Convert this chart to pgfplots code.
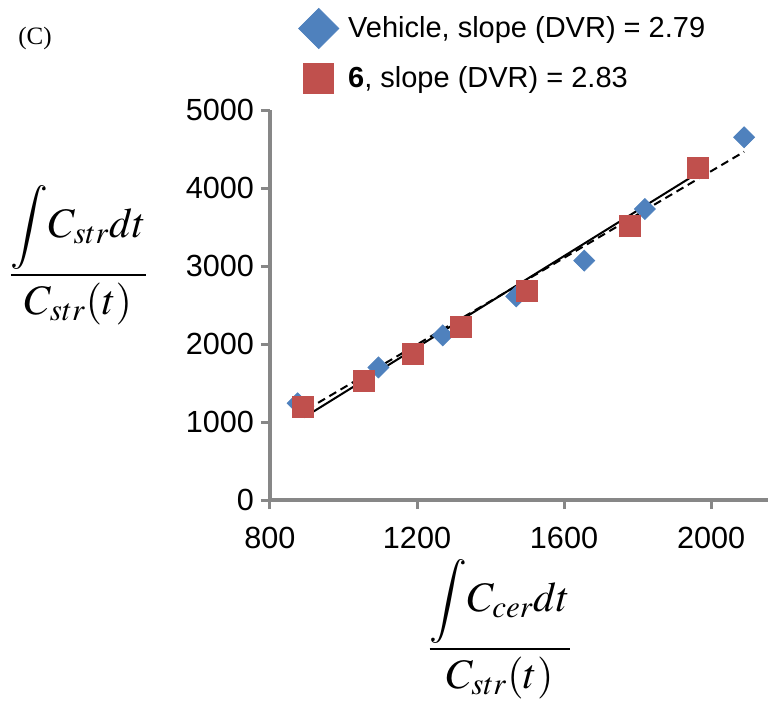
\documentclass[border=0pt]{standalone}
\usepackage{mathptmx}
\usepackage{fontspec}
\setmainfont{Liberation Sans}
\newfontfamily\seriffont{Liberation Serif}
\usepackage{pgfplots}
\pgfplotsset{compat=1.18}
\definecolor{vblue}{HTML}{4F81BD}
\definecolor{vred}{HTML}{C0504D}
\definecolor{axgray}{HTML}{878787}
\newcommand{\lowint}{\raisebox{0pt}[\dimexpr\height-6bp\relax][\depth]{$\displaystyle\int$}}

\begin{document}
\begin{tikzpicture}
\useasboundingbox (-135bp,-106bp) rectangle (250bp,250bp);
\begin{axis}[
    at={(0,0)}, anchor=south west,
    scale only axis, width=249bp, height=195bp,
    xmin=800, xmax=2155, ymin=0, ymax=5000,
    axis lines=left,
    axis line style={-, draw=axgray, line width=2bp},
    xtick={800,1200,1600,2000},
    ytick={0,1000,2000,3000,4000,5000},
    tick align=outside,
    major tick length=4.5bp,
    every tick/.style={draw=axgray, line width=1.5bp},
    tick label style={font=\fontsize{15.3bp}{18bp}\selectfont, black},
    xticklabel style={yshift=-5.5bp},
    yticklabel style={xshift=0bp},
    /pgf/number format/1000 sep={},
    /pgf/number format/assume math mode=true,
    clip=false,
    legend style={draw=none, fill=none, at={(0.0562,1.2615)}, anchor=north west,
        inner sep=0pt, font=\fontsize{14.5bp}{17bp}\selectfont,
        row sep=7bp, column sep=0pt},
    legend cell align=left,
]
% Vehicle
\addplot[only marks, mark=square*, mark size=3.7bp,
    mark options={rotate=45, fill=vblue, draw=vblue},
    legend image code/.code={\draw[only marks, mark=square*, mark size=7.1bp,
        mark options={rotate=45, fill=vblue, draw=vblue}] plot coordinates {(10bp,0bp)};
        \path (0bp,0bp) (22.5bp,0bp);}]
    coordinates {(875,1240) (1095,1700) (1270,2110) (1470,2610) (1655,3070) (1820,3730) (2090,4650)};
\addlegendentry{Vehicle, slope (DVR) = 2.79}
% compound 6
\addplot[only marks, mark=square*, mark size=5.25bp,
    mark options={fill=vred, draw=vred},
    legend image code/.code={\draw[only marks, mark=square*, mark size=7.5bp,
        mark options={fill=vred, draw=vred}] plot coordinates {(10bp,0bp)};
        \path (0bp,0bp) (22.5bp,0bp);}]
    coordinates {(890,1190) (1055,1530) (1190,1875) (1320,2215) (1500,2685) (1780,3515) (1965,4255)};
\addlegendentry{\textbf{6}, slope (DVR) = 2.83}
% fits
\addplot[forget plot, black, line width=1bp, dash pattern=on 4bp off 2.5bp]
    coordinates {(870,1077) (2090,4465)};
\addplot[forget plot, black, line width=1bp]
    coordinates {(893,1060) (1970,4209)};
\end{axis}
\node[font=\fontsize{21bp}{24bp}\selectfont, anchor=base, inner sep=0pt] at (-95.75bp,107.25bp)
    {$\displaystyle\frac{\lowint C_{str}dt}{C_{str}(t)}$};
\node[font=\fontsize{21bp}{24bp}\selectfont, anchor=base, inner sep=0pt] at (115bp,-79.75bp)
    {$\displaystyle\frac{\lowint C_{cer}dt}{C_{str}(t)}$};
\node[font=\seriffont\fontsize{12.5bp}{15bp}\selectfont] at (-117.5bp,231bp) {(C)};
\end{tikzpicture}
\end{document}
